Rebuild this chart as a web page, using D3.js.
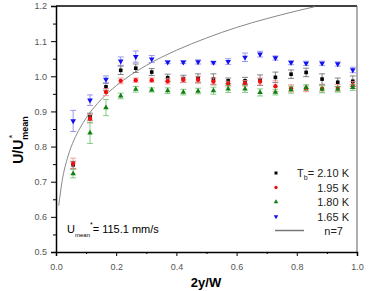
<!DOCTYPE html>
<html>
<head lang="en">
    <meta charset="UTF-8">
    <title> Velocity profile </title>
    <script type="text/javascript" src="https://cdn.jsdelivr.net/npm/d3@7/dist/d3.min.js"></script>
    <style>
        body { margin: 0; background: #fff; }
        text { font-family: "Liberation Sans", Arial, sans-serif; }
    </style>
</head>
<body>
<div id="chart"></div>
<script>

    // data
    var xPos = [0.057, 0.113, 0.166, 0.215, 0.265, 0.318, 0.371, 0.423, 0.472, 0.523,
                0.572, 0.628, 0.678, 0.729, 0.781, 0.831, 0.884, 0.936, 0.986];

    var t210 = [0.748, 0.885, 0.970, 1.017, 1.023, 1.012, 0.996, 0.993, 0.995, 0.992,
                0.987, 0.987, 0.989, 0.997, 1.006, 1.011, 0.992, 0.983, 0.986];
    var t210err = [0.010, 0.010, 0.010, 0.012, 0.012, 0.010, 0.010, 0.010, 0.012, 0.015,
                   0.008, 0.010, 0.015, 0.015, 0.012, 0.012, 0.015, 0.012, 0.015];

    var t195 = [0.752, 0.879, 0.955, 0.987, 0.989, 0.989, 0.986, 0.990, 0.990, 0.985,
                0.978, 0.980, 0.985, 0.972, 0.966, 0.964, 0.965, 0.967, 0.975];
    var t195err = [0.015, 0.012, 0.010, 0.008, 0.006, 0.006, 0.008, 0.008, 0.010, 0.010,
                   0.008, 0.008, 0.010, 0.015, 0.010, 0.008, 0.010, 0.010, 0.010];

    var t180 = [0.723, 0.839, 0.911, 0.944, 0.963, 0.961, 0.959, 0.955, 0.958, 0.959,
                0.964, 0.964, 0.954, 0.955, 0.962, 0.968, 0.963, 0.963, 0.968];
    var t180err = [0.012, 0.030, 0.023, 0.008, 0.008, 0.006, 0.008, 0.008, 0.008, 0.010,
                   0.010, 0.010, 0.010, 0.008, 0.010, 0.008, 0.010, 0.008, 0.008];

    var t165 = [0.873, 0.932, 0.991, 1.043, 1.056, 1.049, 1.040, 1.040, 1.041, 1.039,
                1.042, 1.054, 1.063, 1.052, 1.039, 1.037, 1.037, 1.035, 1.018];
    var t165err = [0.030, 0.015, 0.010, 0.012, 0.016, 0.010, 0.004, 0.004, 0.006, 0.004,
                   0.008, 0.012, 0.008, 0.006, 0.006, 0.006, 0.006, 0.006, 0.008];

    // n=7 reference curve
    var curveX = [0.009, 0.02, 0.04, 0.06, 0.08, 0.10, 0.15, 0.20, 0.30, 0.40, 0.50, 0.60, 0.70, 0.80, 0.86];
    var curveY = [0.632, 0.700, 0.773, 0.819, 0.853, 0.881, 0.934, 0.973, 1.031, 1.074, 1.109, 1.139, 1.164, 1.186, 1.198];

    var xTicks = [0, 0.2, 0.4, 0.6, 0.8, 1.0];
    var yTicks = [0.5, 0.6, 0.7, 0.8, 0.9, 1.0, 1.1, 1.2];
    var legendTemps = ["2.10 K", "1.95 K", "1.80 K", "1.65 K"];

    var width = 372, height = 291;
    var pLeft = 56, pRight = 357, pTop = 6, pBottom = 252;

    var x = d3.scaleLinear().domain([0, 1]).range([pLeft, pRight]);
    var y = d3.scaleLinear().domain([0.5, 1.2]).range([pBottom, pTop]);

    var svg = d3.select("#chart").append("svg")
            .attr("width", width)
            .attr("height", height);

    var series = [
        { vals: t210, err: t210err, shape: d3.symbolSquare, size: 13, fill: "#000", bar: "#666" },
        { vals: t195, err: t195err, shape: d3.symbolCircle, size: 15, fill: "#f01010", bar: "#f08888" },
        { vals: t180, err: t180err, shape: d3.symbolTriangle, size: 13, fill: "#108010", bar: "#66c066" },
        { vals: t165, err: t165err, shape: d3.symbolTriangle, size: 14, fill: "#1010f0", bar: "#8080f0", down: true }
    ];

    // frame
    svg.append("line").attr("x1", pLeft).attr("x2", pRight).attr("y1", pTop).attr("y2", pTop)
            .style("stroke", "#000").style("stroke-width", 1.5);
    svg.append("line").attr("x1", pRight).attr("x2", pRight).attr("y1", pTop).attr("y2", pBottom)
            .style("stroke", "#777").style("stroke-width", 1.2);

    // clip for curve
    svg.append("clipPath").attr("id", "plotclip").append("rect")
            .attr("x", pLeft).attr("y", pTop).attr("width", pRight - pLeft).attr("height", pBottom - pTop);

    var curve = d3.line()
            .x(function(d, i) { return x(curveX[i]); })
            .y(function(d, i) { return y(curveY[i]); })
            .curve(d3.curveMonotoneX);

    svg.append("path")
            .datum(curveX)
            .attr("d", curve)
            .attr("clip-path", "url(#plotclip)")
            .style("fill", "none")
            .style("stroke", "#888")
            .style("stroke-width", 1);

    // error bars + markers
    series.forEach(function(s) {
        var g = svg.append("g");
        var bars = g.selectAll("g.err").data(s.vals).enter().append("g");
        bars.append("line")
                .attr("x1", function(d, i) { return x(xPos[i]); })
                .attr("x2", function(d, i) { return x(xPos[i]); })
                .attr("y1", function(d, i) { return y(d - s.err[i]); })
                .attr("y2", function(d, i) { return y(d + s.err[i]); })
                .style("stroke", s.bar).style("stroke-width", 0.8);
        [-1, 1].forEach(function(sign) {
            bars.append("line")
                    .attr("x1", function(d, i) { return x(xPos[i]) - 3; })
                    .attr("x2", function(d, i) { return x(xPos[i]) + 3; })
                    .attr("y1", function(d, i) { return y(d + sign * s.err[i]); })
                    .attr("y2", function(d, i) { return y(d + sign * s.err[i]); })
                    .style("stroke", s.bar).style("stroke-width", 0.8);
        });
        g.selectAll("path").data(s.vals).enter().append("path")
                .attr("d", d3.symbol().type(s.shape).size(s.size))
                .attr("transform", function(d, i) {
                    return "translate(" + x(xPos[i]) + "," + y(d) + ")" + (s.down ? " rotate(180)" : "");
                })
                .style("fill", s.fill);
    });

    // axes
    svg.append("g").attr("transform", "translate(0," + pBottom + ")")
            .call(d3.axisBottom(x).tickValues(xTicks).tickFormat(d3.format(".1f")).tickSize(4).tickPadding(8));
    svg.append("g").attr("transform", "translate(0," + pBottom + ")")
            .call(d3.axisBottom(x).tickValues([0.1, 0.3, 0.5, 0.7, 0.9]).tickFormat("").tickSize(2))
            .call(function(g) { g.select(".domain").remove(); });
    svg.append("g").attr("transform", "translate(" + pLeft + ",0)")
            .call(d3.axisLeft(y).tickValues(yTicks).tickFormat(d3.format(".1f")).tickSize(5).tickPadding(4));
    svg.append("g").attr("transform", "translate(" + pLeft + ",0)")
            .call(d3.axisLeft(y).tickValues([0.55, 0.65, 0.75, 0.85, 0.95, 1.05, 1.15]).tickFormat("").tickSize(3))
            .call(function(g) { g.select(".domain").remove(); });

    svg.selectAll(".domain").style("stroke", "#000").style("stroke-width", 1.5);
    svg.selectAll(".tick line").style("stroke", "#000");
    svg.selectAll(".tick text").style("fill", "#555").style("font-size", "9px")
            .style("font-family", "Liberation Sans, Arial, sans-serif");

    // axis titles
    svg.append("text")
            .attr("x", 206).attr("y", 287)
            .attr("text-anchor", "middle")
            .style("font-weight", "bold").style("font-size", "13px")
            .text("2y/W");

    var ylab = svg.append("text")
            .attr("transform", "translate(23,140) rotate(-90)")
            .attr("text-anchor", "middle")
            .style("font-weight", "bold").style("font-size", "14px");
    ylab.append("tspan").text("U/U");
    ylab.append("tspan").attr("dy", 5).style("font-size", "9px").text("mean");
    ylab.append("tspan").attr("dx", -22).attr("dy", -13).style("font-size", "9px").style("font-weight", "normal").text("*");

    // annotation
    var note = svg.append("text").attr("x", 67).attr("y", 233).style("font-size", "11px");
    note.append("tspan").text("U");
    note.append("tspan").attr("dy", 4).style("font-size", "6px").text("mean");
    note.append("tspan").attr("dy", -10).style("font-size", "7px").text("*");
    note.append("tspan").attr("dy", 6).text("= 115.1 mm/s");

    // legend
    var legendY = [173, 187.5, 202, 216.5, 230.5];
    series.forEach(function(s, i) {
        svg.append("path")
                .attr("d", d3.symbol().type(s.shape).size(9))
                .attr("transform", "translate(276," + legendY[i] + ")" + (s.down ? " rotate(180)" : ""))
                .style("fill", s.fill);
        var t = svg.append("text")
                .attr("x", 349).attr("y", legendY[i] + 4)
                .attr("text-anchor", "end")
                .style("font-size", "11px")
                .style("fill", "#222");
        if (i === 0) {
            t.append("tspan").text("T");
            t.append("tspan").attr("dy", 3).style("font-size", "7px").text("b");
            t.append("tspan").attr("dy", -3).text("= " + legendTemps[i]);
        } else {
            t.text(legendTemps[i]);
        }
    });
    svg.append("line")
            .attr("x1", 275).attr("x2", 304)
            .attr("y1", legendY[4]).attr("y2", legendY[4])
            .style("stroke", "#777").style("stroke-width", 1.5);
    svg.append("text")
            .attr("x", 343).attr("y", legendY[4] + 4)
            .attr("text-anchor", "end")
            .style("font-size", "11px").style("fill", "#222")
            .text("n=7");

</script>
</body>
</html>
